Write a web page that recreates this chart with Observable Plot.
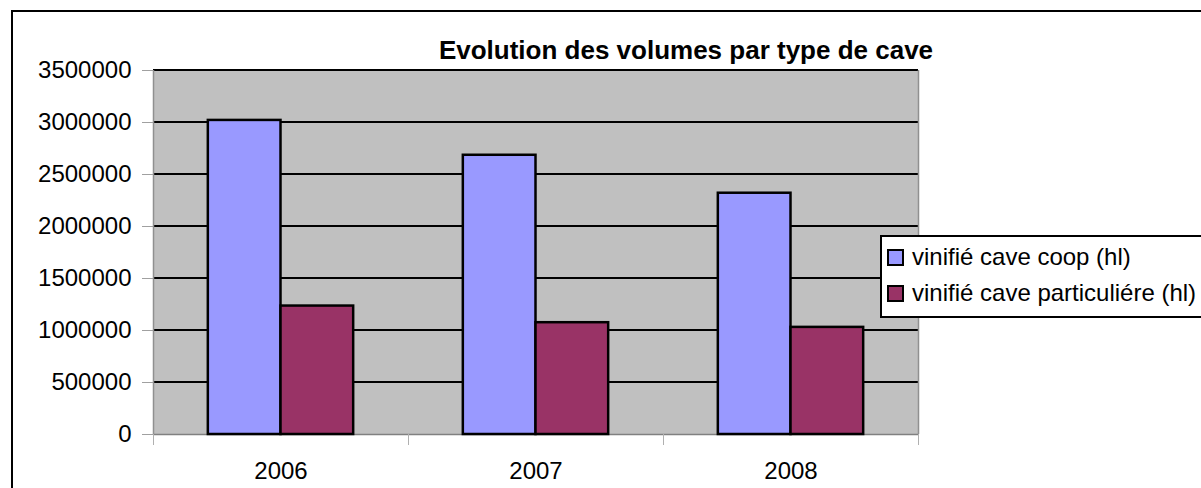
<!DOCTYPE html>
<html>
<head>
<meta charset="utf-8">
<script src="https://cdn.jsdelivr.net/npm/d3@7"></script>
<script src="https://cdn.jsdelivr.net/npm/@observablehq/plot@0.6"></script>
<style>
  html, body { margin: 0; padding: 0; background: #fff; overflow: hidden; }
  body { width: 1201px; height: 488px; position: relative; font-family: "Liberation Sans", Arial, sans-serif; }
  #frame { position: absolute; left: 11px; top: 10px; width: 1300px; height: 600px; border-top: 2px solid #000; border-left: 2px solid #000; pointer-events: none; }
  #chart { position: absolute; left: 0; top: 0; }
  #title { position: absolute; left: 686px; top: 37px; transform: translateX(-50%); white-space: nowrap; font-weight: bold; font-size: 26px; line-height: 26px; color: #000; }
  #legend { position: absolute; left: 880px; top: 235px; width: 360px; border: 2px solid #000; border-right: none; background: #fff; padding: 2px 0 5px 5px; box-sizing: content-box; }
  .row { display: flex; align-items: center; height: 36px; font-size: 24px; line-height: 36px; color: #000; white-space: nowrap; }
  .sw { width: 13px; height: 13px; border: 2px solid #000; margin-right: 8px; flex: none; }
</style>
</head>
<body>
<div id="chart"></div>
<div id="frame"></div>
<div id="title"></div>
<div id="legend"></div>
<script>
const title = "Evolution des volumes par type de cave";
const years = ["2006", "2007", "2008"];
const series = ["vinifié cave coop (hl)", "vinifié cave particuliére (hl)"];
const coop = [3020000, 2685000, 2320000];
const particuliere = [1235000, 1075000, 1030000];
const yTicks = [0, 500000, 1000000, 1500000, 2000000, 2500000, 3000000, 3500000];
const colors = ["#9999ff", "#993366"];

// layout constants (fraction of a category slot)
const gap = 0.215, barW = 0.285;

const values = [coop, particuliere];
const data = years.flatMap((year, i) => series.map((s, k) => ({
  year, s, value: values[k][i],
  x1: i + gap + k * barW,
  x2: i + gap + (k + 1) * barW
})));

const plot = Plot.plot({
  width: 1201,
  height: 488,
  marginLeft: 153,
  marginRight: 283,
  marginTop: 70,
  marginBottom: 54,
  style: { fontFamily: "'Liberation Sans', Arial, sans-serif", fontSize: "24px", color: "#000", background: "transparent", overflow: "visible" },
  x: { type: "linear", domain: [0, years.length] },
  y: { domain: [0, 3500000] },
  color: { domain: series, range: colors },
  marks: [
    Plot.frame({ fill: "#c0c0c0", stroke: null }),
    Plot.ruleY(yTicks.filter(v => v > 0), { stroke: "#000", strokeWidth: 2, dy: -0.5 }),
    Plot.ruleY([0], { stroke: "#808080", strokeWidth: 1.5 }),
    Plot.ruleX([0, years.length], { y1: 0, y2: 3500000, stroke: "#909090", strokeWidth: 1.5 }),
    Plot.rectY(data, { x1: "x1", x2: "x2", y: "value", fill: "s", stroke: "#000", strokeWidth: 2.5 }),
    Plot.axisY({ ticks: yTicks, tickSize: 11, tickPadding: 11, tickFormat: d => String(d), label: null, fontSize: 24, stroke: "#a0a0a0", fill: "#000" }),
    Plot.axisX({ ticks: d3.range(years.length + 1), tickSize: 11, tickFormat: () => "", label: null, stroke: "#b0b0b0" }),
    Plot.axisX({ ticks: years.map((_, i) => i + 0.5), tickSize: 0, tickPadding: 27, tickFormat: d => years[Math.floor(d)], label: null, fontSize: 24, fill: "#000" })
  ]
});
document.getElementById("chart").appendChild(plot);

document.getElementById("title").textContent = title;
const legend = d3.select("#legend");
series.forEach((s, k) => {
  const row = legend.append("div").attr("class", "row");
  row.append("div").attr("class", "sw").style("background", colors[k]);
  row.append("span").text(s);
});
</script>
</body>
</html>
